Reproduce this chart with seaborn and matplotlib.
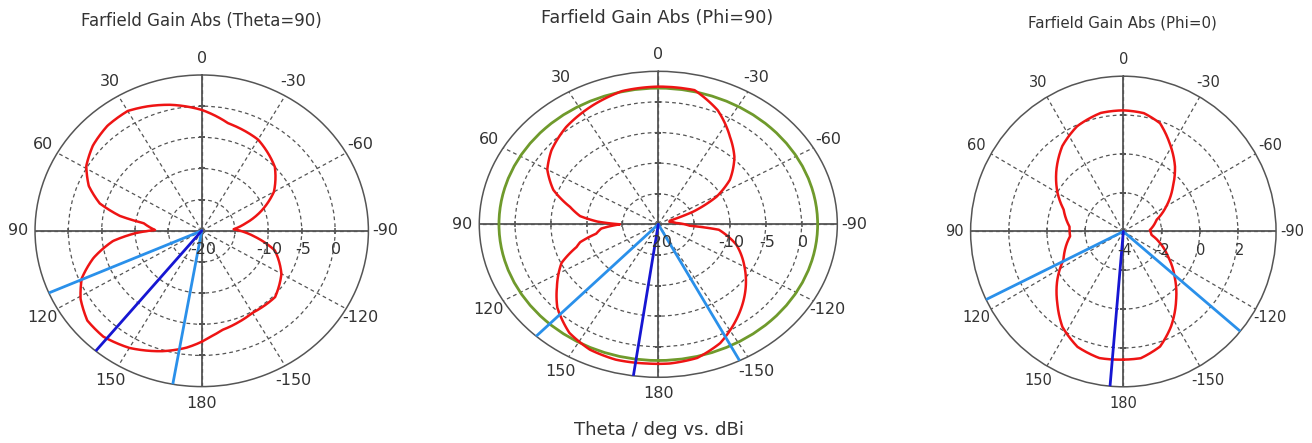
import numpy as np
import matplotlib
matplotlib.use("Agg")
import matplotlib.pyplot as plt
import seaborn as sns

# ---- data (angle in deg, gain in dBi) ----
# Theta=90 cut
t90_angle = [-180, -176, -169, -160, -150, -134, -120, -106, -97, -87, -80, -70, -60, -47,
             -30, -13, 0, 13, 22, 30, 40, 50, 59, 67, 74, 79, 82, 89, 92, 97, 105, 113,
             121, 130, 139, 150, 163, 173, 180]
t90_gain = [-2.2, -2.9, -3.8, -4.3, -4.8, -4.7, -6.2, -8.6, -11.9, -15.2, -13.4, -10.4, -7.5, -5.0,
            -3.1, -2.3, -0.6, 0.75, 1.55, 2.2, 2.0, 1.3, 0.2, -1.6, -4.1, -7.5, -11.2, -13.0, -10.2,
            -6.6, -3.2, -0.45, 1.2, 2.4, 2.5, 1.7, 0.2, -1.1, -2.2]
t90_beam = 140.5
t90_hp = [113.5, 170]

# Phi=90 cut
p90_angle = [-180, -176, -166, -156, -145, -133, -120, -107, -101, -96, -93, -85, -75, -70, -67,
             -61, -54, -44, -35, -24, -13, 0, 13, 25, 39, 51, 60, 69, 77, 83, 87, 90, 95, 100,
             105, 108, 115, 126, 134, 145, 155, 165, 176, 180]
p90_gain = [2.8, 2.8, 2.5, 1.25, -1.0, -3.45, -6.1, -8.6, -10.2, -11.5, -15.6, -17.5, -18.4, -18.3,
            -14.7, -10.7, -7.65, -4.7, -2.55, 0.4, 2.5, 2.5, 2.35, 1.5, 0.45, -0.8, -2.1, -4.3, -7.35,
            -9.0, -11.5, -14.65, -12.0, -11.2, -8.7, -8.0, -5.1, -2.5, -0.4, 1.65, 2.6, 2.9, 2.8, 2.8]
p90_ref_angle = [-180, -90, 0, 90, 180]
p90_ref_gain = [2.25, 2.25, 2.25, 2.25, 2.25]
p90_beam = 172
p90_hp = [137, -153]

# Phi=0 cut
p0_angle = [-180, -172, -162, -153, -142, -131, -119, -107, -97, -87, -71, -60, -48, -39, -28,
            -19, -10, 0, 11, 24, 36, 48, 60, 70, 85, 95, 115, 126, 137, 147, 158, 169, 177, 180]
p0_gain = [2.6, 2.59, 2.23, 1.5, 0.49, -0.44, -1.32, -2.0, -2.51, -2.61, -2.16, -1.4, -0.5, 0.3,
           1.16, 1.9, 2.19, 2.24, 2.22, 1.94, 1.44, 0.72, -0.02, -0.67, -1.17, -1.2, -0.54, 0.28,
           1.07, 1.86, 2.41, 2.64, 2.61, 2.6]
p0_beam = 175
p0_hp = [116, -130]

theta_ticks = [0, 30, 60, 90, 120, 150, 180, 210, 240, 270, 300, 330]
theta_labels = ["0", "30", "60", "90", "120", "150", "180", "-150", "-120", "-90", "-60", "-30"]

RED = "#ee1414"
LBLUE = "#2a90ea"
DBLUE = "#1616d2"
GREEN = "#6f9a2c"
GRID = "#555555"
TXT = "#333333"

sns.set_theme(style="white")
plt.rcParams['font.family'] = ['DejaVu Sans']

fig = plt.figure(figsize=(13.12, 4.43), dpi=100)


def setup(ax, rmin, rmax, step, rlabels, fs):
    ax.set_theta_zero_location("N")
    ax.set_theta_direction(1)
    ax.set_aspect("auto")
    ax.set_ylim(rmin, rmax)
    rings = np.arange(rmin + step, rmax, step)
    ax.set_yticks(rings)
    ax.set_yticklabels([])
    ax.set_thetagrids(theta_ticks, theta_labels, fontsize=fs, color=TXT)
    ax.tick_params(axis="x", pad=-1)
    ax.grid(True, color=GRID, ls=(0, (3, 2.5)), lw=0.9)
    ax.spines["polar"].set_color(GRID)
    ax.spines["polar"].set_linewidth(1.1)
    for a in [0, 90, 180, 270]:
        ax.axvline(np.deg2rad(a), color=GRID, lw=1.3, zorder=1.5)
    # small tick marks on the cross
    ax.plot(np.deg2rad([270] * len(rings) + [90] * len(rings)), list(rings) * 2,
            ls="none", marker="|", ms=4, mew=1.1, color=GRID, zorder=1.6)
    ax.plot(np.deg2rad([0] * len(rings) + [180] * len(rings)), list(rings) * 2,
            ls="none", marker="_", ms=4, mew=1.1, color=GRID, zorder=1.6)
    for v in rlabels:
        ax.annotate(str(v), xy=(np.deg2rad(270), v), xytext=(1, -8),
                    textcoords="offset points", ha="center", va="top",
                    fontsize=fs, color=TXT, zorder=5)


def draw_cut(ax, ang, gain, color, lw=1.8):
    sns.lineplot(x=np.deg2rad(ang), y=gain, ax=ax, sort=False, estimator=None,
                 color=color, linewidth=lw, zorder=3)
    # let the polar transform bend each segment into an arc
    ax.lines[-1].get_path()._interpolation_steps = 60


def draw_beams(ax, beam, hp, rmin, rmax):
    for a in hp:
        sns.lineplot(x=np.deg2rad([a, a]), y=[rmin, rmax], ax=ax, sort=False,
                     estimator=None, color=LBLUE, linewidth=2.0, zorder=4)
    sns.lineplot(x=np.deg2rad([beam, beam]), y=[rmin, rmax], ax=ax, sort=False,
                 estimator=None, color=DBLUE, linewidth=2.0, zorder=4)


# panel 1
ax1 = fig.add_axes([0.0267, 0.1273, 0.2541, 0.7034], projection="polar")
draw_cut(ax1, t90_angle, t90_gain, RED)
draw_beams(ax1, t90_beam, t90_hp, -20, 5)
setup(ax1, -20, 5, 5, [-20, -10, -5, 0], 11.5)

# panel 2
ax2 = fig.add_axes([0.3653, 0.1483, 0.2729, 0.6907], projection="polar")
draw_cut(ax2, p90_ref_angle, p90_ref_gain, GREEN, lw=2.0)
draw_cut(ax2, p90_angle, p90_gain, RED)
draw_beams(ax2, p90_beam, p90_hp, -20, 5)
setup(ax2, -20, 5, 5, [-20, -10, -5, 0], 11.5)

# panel 3
ax3 = fig.add_axes([0.7398, 0.1269, 0.2328, 0.7011], projection="polar")
draw_cut(ax3, p0_angle, p0_gain, RED)
draw_beams(ax3, p0_beam, p0_hp, -4, 4)
setup(ax3, -4, 4, 2, [-4, -2, 0, 2], 10.5)

fig.text(201 / 1312, 1 - 21 / 443, "Farfield Gain Abs (Theta=90)", ha="center", va="center",
         fontsize=12, color=TXT)
fig.text(657 / 1312, 1 - 18 / 443, "Farfield Gain Abs (Phi=90)", ha="center", va="center",
         fontsize=12.7, color=TXT)
fig.text(1122 / 1312, 1 - 23 / 443, "Farfield Gain Abs (Phi=0)", ha="center", va="center",
         fontsize=10.8, color=TXT)
fig.text(659 / 1312, 1 - 430 / 443, "Theta / deg vs. dBi", ha="center", va="center",
         fontsize=13.1, color=TXT)

fig.savefig("out.png", dpi=100, facecolor="white")
